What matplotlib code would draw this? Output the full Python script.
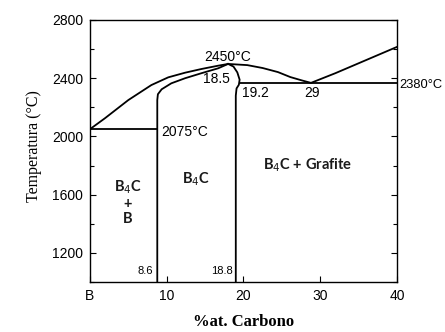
import matplotlib
matplotlib.use('Agg')
import matplotlib.pyplot as plt
from matplotlib.ticker import MultipleLocator

# liquidus (upper curve)
liq_x = [0, 1.95, 5.0, 8.0, 10.2, 12.4, 14.5, 16.7, 18.0, 20.5, 22.5, 24.5, 26.1, 27.6, 28.8, 32, 36, 40]
liq_y = [2050, 2125, 2250, 2353, 2406, 2438, 2463, 2486, 2498, 2490, 2470, 2442, 2408, 2385, 2368, 2435, 2525, 2615]

# B4C boundary, boron side
left_x = [8.77, 8.77, 8.85, 9.34, 10.6, 12.4, 14.5, 16.7, 18.0]
left_y = [1000, 2250, 2290, 2324, 2365, 2400, 2434, 2468, 2498]

# B4C boundary, carbon side
right_x = [18.0, 18.7, 19.2, 19.5, 19.4, 19.1, 19.0, 19.0]
right_y = [2498, 2480, 2440, 2390, 2355, 2330, 2280, 1000]

# eutectic lines
eut1_x = [0, 8.77]
eut1_y = [2050, 2050]
eut2_x = [19.5, 40]
eut2_y = [2370, 2370]

xticks = [0, 10, 20, 30, 40]
xlabels = ['B', '10', '20', '30', '40']
yticks = [1200, 1600, 2000, 2400, 2800]

fig = plt.figure(figsize=(4.45, 3.32), dpi=100)
ax = fig.add_axes([0.2022, 0.1506, 0.6898, 0.7892])

for xs, ys in [(liq_x, liq_y), (left_x, left_y), (right_x, right_y),
               (eut1_x, eut1_y), (eut2_x, eut2_y)]:
    ax.plot(xs, ys, color='black', lw=1.3)

ax.set_xlim(0, 40)
ax.set_ylim(1000, 2800)
ax.set_xticks(xticks)
ax.set_xticklabels(xlabels)
ax.set_yticks(yticks)
ax.yaxis.set_minor_locator(MultipleLocator(200))
ax.tick_params(axis='both', direction='in', length=4, width=0.8,
               labelsize=10, right=True, which='both')
ax.tick_params(axis='y', which='minor', length=3)
for lab in ax.get_xticklabels() + ax.get_yticklabels():
    lab.set_family('Liberation Sans')
ax.tick_params(axis='x', pad=5)
ax.tick_params(axis='y', pad=5)
for s in ax.spines.values():
    s.set_linewidth(1.0)

ax.set_xlabel('%at. Carbono', family='Liberation Serif', fontweight='bold',
              fontsize=12, va='center')
ax.xaxis.set_label_coords(0.5, -0.153)
ax.set_ylabel('Temperatura (°C)', family='Liberation Serif', fontsize=11.5)
ax.yaxis.set_label_coords(-0.155, 0.52)

small = dict(family='Liberation Sans', fontsize=10)
ax.text(18.0, 2545, '2450°C', ha='center', va='center', **small)
ax.text(16.5, 2395, '18.5', ha='center', va='center', **small)
ax.text(21.5, 2300, '19.2', ha='center', va='center', **small)
ax.text(28.9, 2300, '29', ha='center', va='center', **small)
ax.text(9.3, 2030, '2075°C', ha='left', va='center', **small)
ax.text(40.3, 2350, '2380°C', ha='left', va='center', clip_on=False,
        family='Liberation Sans', fontsize=9.3)
ax.text(8.2, 1075, '8.6', ha='right', va='center', family='Liberation Sans', fontsize=8)
ax.text(18.6, 1075, '18.8', ha='right', va='center', family='Liberation Sans', fontsize=8)

bold = dict(family='Lato', fontweight='bold', fontsize=10.5, color='#1a1a1a')
ax.text(4.95, 1550, 'B$_4$C\n+\nB', ha='center', va='center', linespacing=1.1, **bold)
ax.text(13.8, 1708, 'B$_4$C', ha='center', va='center', **bold)
ax.text(28.4, 1804, 'B$_4$C + Grafite', ha='center', va='center', **bold)

fig.savefig('out.png', dpi=100)
